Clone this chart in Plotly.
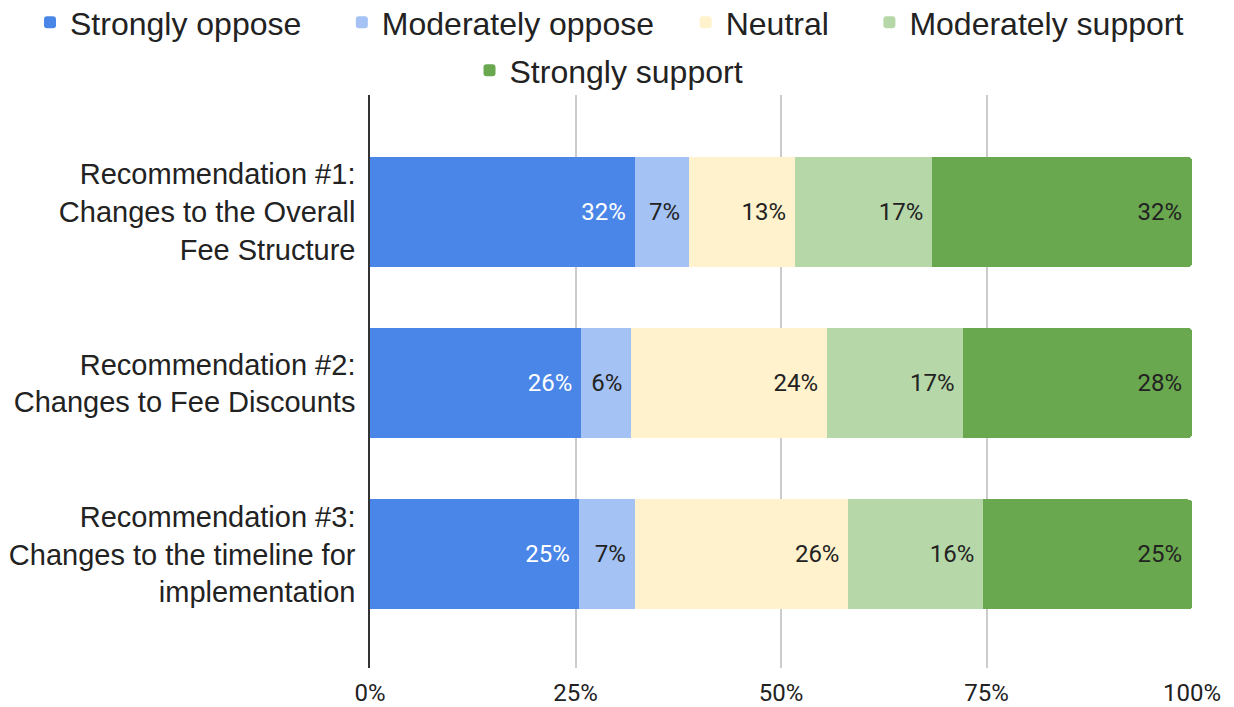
import plotly.graph_objects as go

categories = [
    "Recommendation #1:<br>Changes to the Overall<br>Fee Structure",
    "Recommendation #2:<br>Changes to Fee Discounts",
    "Recommendation #3:<br>Changes to the timeline for<br>implementation",
]
series_names = ["Strongly oppose", "Moderately oppose", "Neutral", "Moderately support", "Strongly support"]
strongly_oppose = [32.2, 25.7, 25.4]
moderately_oppose = [6.6, 6.1, 6.8]
neutral = [12.9, 23.8, 26.0]
moderately_support = [16.7, 16.6, 16.4]
strongly_support = [31.6, 27.8, 25.4]
x_tick_values = [0, 25, 50, 75, 100]
x_tick_labels = ["0%", "25%", "50%", "75%", "100%"]

series_values = [strongly_oppose, moderately_oppose, neutral, moderately_support, strongly_support]
colors = ["#4a86e8", "#a4c2f4", "#fff2cc", "#b6d7a8", "#6aa84f"]
text_colors = ["#ffffff", "#222222", "#222222", "#222222", "#222222"]
legend_ids = ["legend", "legend", "legend", "legend", "legend2"]
legend_pad = ["\u00a0" * 4, "\u00a0" * 3, "\u00a0" * 4, "", ""]

fig = go.Figure()
for name, vals, col, tcol, lg, pad in zip(series_names, series_values, colors, text_colors, legend_ids, legend_pad):
    fig.add_trace(go.Bar(
        y=categories, x=vals, name=name + pad, orientation="h",
        marker=dict(color=col, line=dict(width=0)),
        texttemplate="%{x:.0f}%\u00a0",
        textposition="inside", insidetextanchor="end", textangle=0,
        constraintext="none",
        textfont=dict(family="Roboto", size=24, color=tcol),
        legend=lg, hoverinfo="skip",
    ))

legend_font = dict(family="Liberation Sans, Arial, sans-serif", size=32, color="#222222")
plot_h = 707 - 95 - 39
fig.update_layout(
    width=1234, height=707,
    barmode="stack", bargap=0.358, barcornerradius=4,
    paper_bgcolor="white", plot_bgcolor="white",
    margin=dict(l=370, r=42, t=95, b=39, autoexpand=False),
    legend=dict(orientation="h", x=(30 - 370) / 822, xanchor="left",
                y=1 + 100 / plot_h, yanchor="top",
                font=legend_font, traceorder="normal", itemclick=False,
                bgcolor="rgba(0,0,0,0)"),
    legend2=dict(orientation="h", x=(609 - 370) / 822, xanchor="center",
                 y=1 + 52 / plot_h, yanchor="top",
                 font=legend_font, itemclick=False, bgcolor="rgba(0,0,0,0)"),
    xaxis=dict(range=[0, 100], tickvals=x_tick_values, ticktext=x_tick_labels,
               showgrid=True, gridcolor="#cccccc", gridwidth=1.5, zeroline=False,
               showline=False, ticks="", automargin=False, ticklabelstandoff=8,
               tickfont=dict(family="Roboto", size=24, color="#222222")),
    yaxis=dict(range=[2.663, -0.683], showline=True, linecolor="#333333", linewidth=1.5,
               showgrid=False, ticks="", ticklabelstandoff=7, automargin=False,
               tickfont=dict(family="Liberation Sans, Arial, sans-serif", size=29, color="#222222")),
)

fig.write_html("out.html")
